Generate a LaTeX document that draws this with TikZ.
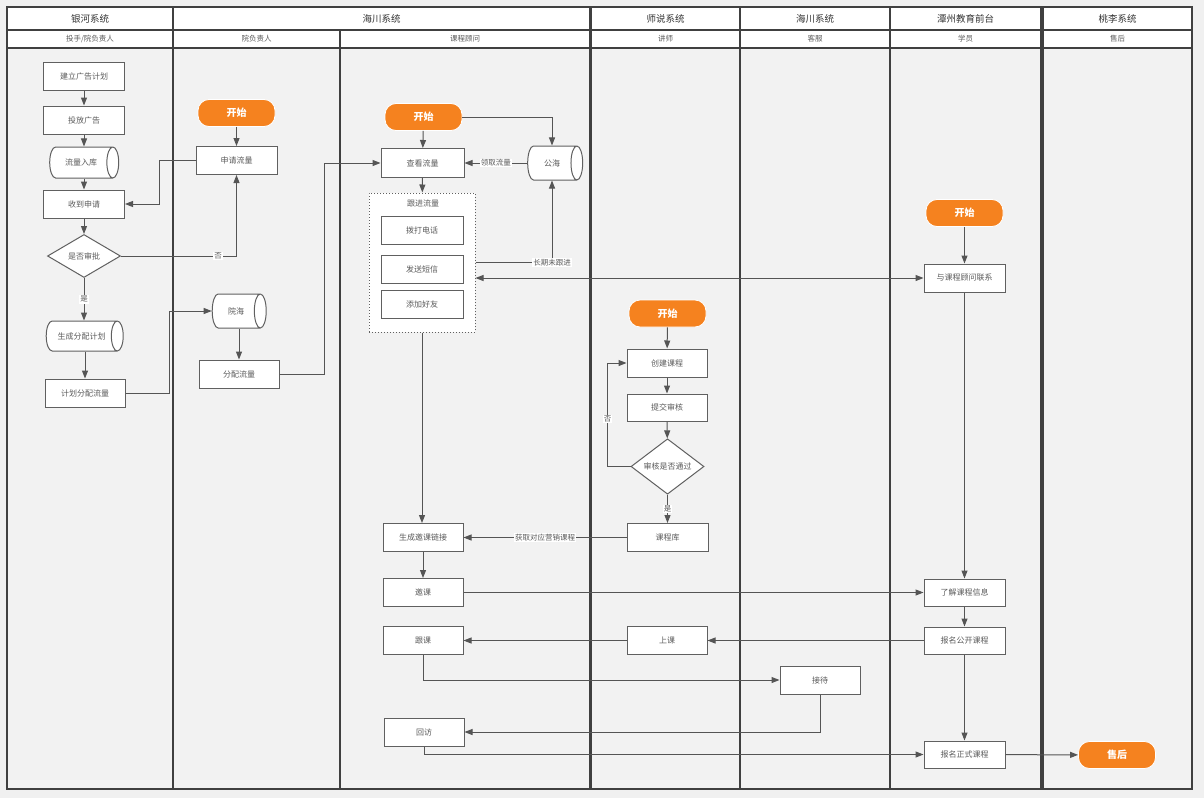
\documentclass[tikz,border=0pt]{standalone}
\usepackage{fontspec}
\newfontfamily\cjk{Noto Sans CJK SC}
\usetikzlibrary{shapes.geometric,arrows.meta,positioning}
\definecolor{pagebg}{HTML}{F0F0F0}
\definecolor{lanebg}{HTML}{F2F2F2}
\definecolor{laneline}{HTML}{404040}
\definecolor{boxline}{HTML}{606060}
\definecolor{txtgray}{HTML}{5A5A5A}
\definecolor{headtxt}{HTML}{333333}
\definecolor{startorange}{HTML}{F5821F}
\definecolor{flowline}{HTML}{555555}

\begin{document}
\begin{tikzpicture}[x=1pt,y=-1pt]
    \tikzstyle{every node}=[font=\cjk\fontsize{8}{10}\selectfont,text=txtgray]
    \tikzstyle{lane}=[draw=laneline,fill=lanebg,line width=1.5pt]
    \tikzstyle{head}=[draw=laneline,fill=white,line width=1.5pt,inner sep=0pt,text=headtxt,font=\cjk\fontsize{9.5}{11}\selectfont]
    \tikzstyle{subhead}=[draw=laneline,fill=white,line width=1.5pt,inner sep=0pt,font=\cjk\fontsize{7.5}{9}\selectfont]
    \tikzstyle{box}=[draw=boxline,fill=white,line width=1pt,minimum width=81pt,minimum height=28pt,inner sep=0pt]
    \tikzstyle{start}=[fill=startorange,draw=white,line width=0.8pt,rounded corners=11pt,minimum width=77pt,minimum height=27pt,inner sep=0pt,text=white,font=\cjk\bfseries\fontsize{10}{12}\selectfont]
    \tikzstyle{store}=[cylinder,draw=boxline,fill=white,line width=1pt,shape aspect=1.6,inner sep=0pt]
    \tikzstyle{decide}=[diamond,draw=boxline,fill=white,line width=1pt,minimum width=73pt,minimum height=43pt,inner sep=0pt]
    \tikzstyle{group}=[draw=boxline,fill=white,line width=1pt,dotted,minimum width=106pt,minimum height=139pt]
    \tikzstyle{flow}=[draw=flowline,line width=1pt,-{Triangle[length=8pt,width=6pt]}]
    \tikzstyle{flow2}=[draw=flowline,line width=1pt,{Triangle[length=8pt,width=6pt]}-{Triangle[length=8pt,width=6pt]}]
    \tikzstyle{lbl}=[fill=white,inner sep=1pt,font=\cjk\fontsize{7.5}{9}\selectfont]

    % page and lanes
    \fill[pagebg] (0,0) rectangle (1204,798);
    \useasboundingbox (0,0) rectangle (1204,798);
    \draw[lane] (7,48) rectangle (173,789);
    \draw[lane] (173,48) rectangle (340,789);
    \draw[lane] (340,48) rectangle (590,789);
    \draw[lane] (591,48) rectangle (740,789);
    \draw[lane] (740,48) rectangle (890,789);
    \draw[lane] (890,48) rectangle (1041,789);
    \draw[lane] (1043,48) rectangle (1192,789);

    % system headers
    \node[head,minimum width=166pt,minimum height=23pt] (sys1) at (90,18.5) {银河系统};
    \node[head,minimum width=417pt,minimum height=23pt] (sys2) at (381.5,18.5) {海川系统};
    \node[head,minimum width=149pt,minimum height=23pt] (sys3) at (665.5,18.5) {师说系统};
    \node[head,minimum width=150pt,minimum height=23pt] (sys4) at (815,18.5) {海川系统};
    \node[head,minimum width=151pt,minimum height=23pt] (sys5) at (965.5,18.5) {潭州教育前台};
    \node[head,minimum width=149pt,minimum height=23pt] (sys6) at (1117.5,18.5) {桃李系统};
    % role headers
    \node[subhead,minimum width=166pt,minimum height=18pt] (role1) at (90,39) {投手/院负责人};
    \node[subhead,minimum width=167pt,minimum height=18pt] (role2) at (256.5,39) {院负责人};
    \node[subhead,minimum width=250pt,minimum height=18pt] (role3) at (465,39) {课程顾问};
    \node[subhead,minimum width=149pt,minimum height=18pt] (role4) at (665.5,39) {讲师};
    \node[subhead,minimum width=150pt,minimum height=18pt] (role5) at (815,39) {客服};
    \node[subhead,minimum width=151pt,minimum height=18pt] (role6) at (965.5,39) {学员};
    \node[subhead,minimum width=149pt,minimum height=18pt] (role7) at (1117.5,39) {售后};

    % 投手/院负责人
    \node[box] (plan) at (84,76) {建立广告计划};
    \node[box] (put) at (84,120) {投放广告};
    \node[store,minimum height=69pt,minimum width=31pt] (pool) at (81,162.5) {流量入库};
    \node[box] (recv) at (84,204) {收到申请};
    \node[decide] (audit) at (84,256) {是否审批};
    \node[store,minimum height=77pt,minimum width=30pt] (gen) at (81.5,336) {生成分配计划};
    \node[box,minimum width=80pt] (alloc) at (85,393) {计划分配流量};

    % 院负责人
    \node[start] (start1) at (236.5,113) {开始};
    \node[box] (apply) at (236.5,160.5) {申请流量};
    \node[store,minimum height=54pt,minimum width=34pt] (yuanhai) at (236,311) {院海};
    \node[box,minimum width=80pt] (dist) at (239,374) {分配流量};

    % 课程顾问
    \node[start] (start2) at (423.5,117) {开始};
    \node[box,minimum width=83pt,minimum height=29pt] (view) at (422.5,163) {查看流量};
    \node[store,minimum height=55pt,minimum width=34pt] (sea) at (552,163) {公海};
    \node[group] (follow) at (422,262.5) {};
    \node (followtitle) at (423,203) {跟进流量};
    \node[box,minimum width=82pt] (call) at (422,230) {拨打电话};
    \node[box,minimum width=82pt] (sms) at (422,269) {发送短信};
    \node[box,minimum width=82pt] (friend) at (422,304) {添加好友};
    \node[box,minimum width=80pt] (link) at (423,537.5) {生成邀课链接};
    \node[box,minimum width=80pt] (invite) at (423,592.5) {邀课};
    \node[box,minimum width=80pt] (attend) at (423,640.5) {跟课};
    \node[box,minimum width=80pt] (visit) at (424,732) {回访};

    % 讲师
    \node[start] (start3) at (667.5,313.5) {开始};
    \node[box,minimum width=80pt] (create) at (667,363) {创建课程};
    \node[box,minimum width=80pt,minimum height=27pt] (submit) at (667,407.5) {提交审核};
    \node[decide] (check) at (667.5,466.5) {审核是否通过};
    \node[box] (lib) at (667.5,537.5) {课程库};
    \node[box,minimum width=80pt] (class) at (667,640.5) {上课};

    % 客服
    \node[box,minimum width=80pt] (recep) at (820,680) {接待};

    % 学员
    \node[start] (start4) at (964.5,213) {开始};
    \node[box] (contact) at (964.5,278) {与课程顾问联系};
    \node[box,minimum width=81pt,minimum height=27pt] (know) at (964.5,592.5) {了解课程信息};
    \node[box,minimum width=81pt,minimum height=27pt] (pub) at (964.5,640.5) {报名公开课程};
    \node[box,minimum width=81pt,minimum height=27pt] (formal) at (964.5,754.5) {报名正式课程};

    % 售后
    \node[start] (after) at (1117,755) {售后};

    % flow of 投手/院负责人
    \draw[flow] (plan) -- (put);
    \draw[flow] (put) -- (put |- pool.north);
    \draw[flow] (put |- pool.south) -- (recv);
    \draw[flow] (recv) -- (audit);
    \draw[flow] (audit) -- node[lbl] {是} (audit |- gen.north);
    \draw[flow] (alloc |- gen.south) -- (alloc);
    \draw[flow] (apply.west) -- ++(-36,0) |- (recv.east);
    \draw[flow] (audit.east) -| node[lbl,pos=0.42] {否} (apply.south);
    \draw[flow] (alloc.east) -- ++(44,0) |- (yuanhai.west);

    % flow of 院负责人
    \draw[flow] (start1) -- (apply);
    \draw[flow] (dist |- yuanhai.south) -- (dist);
    \draw[flow] (dist.east) -- ++(45,0) |- (view.west);

    % flow of 课程顾问
    \draw[flow] (start2) -- (view);
    \draw[flow] (start2.east) -| (sea.north);
    \draw[flow] (sea.west) -- node[lbl] {领取流量} (view.east);
    \draw[flow] (view) -- (follow);
    \draw[flow] (follow.east) -| node[lbl,pos=0.5] {长期未跟进} (sea.south);
    \draw[flow2] (follow.east |- contact.west) -- (contact.west);
    \draw[flow] (follow.south) -- (follow.south |- link.north);
    \draw[flow] (link) -- (invite);
    \draw[flow] (invite.east) -- (know.west);
    \draw[flow] (attend.south) |- (recep.west);
    \draw[flow] (visit.south) |- (formal.west);

    % flow of 讲师
    \draw[flow] (start3) -- (create);
    \draw[flow] (create) -- (submit);
    \draw[flow] (submit) -- (check);
    \draw[flow] (check.west) -- ++(-23,0) |- node[lbl,pos=0.23] {否} (create.west);
    \draw[flow] (check) -- node[lbl] {是} (lib);
    \draw[flow] (lib.west) -- node[lbl] {获取对应营销课程} (link.east);
    \draw[flow] (class.west) -- (attend.east);

    % flow of 客服
    \draw[flow] (recep.south) |- (visit.east);

    % flow of 学员
    \draw[flow] (start4) -- (contact);
    \draw[flow] (contact) -- (know);
    \draw[flow] (know) -- (pub);
    \draw[flow] (pub.west) -- (class.east);
    \draw[flow] (pub) -- (formal);
    \draw[flow] (formal) -- (after);
\end{tikzpicture}
\end{document}
